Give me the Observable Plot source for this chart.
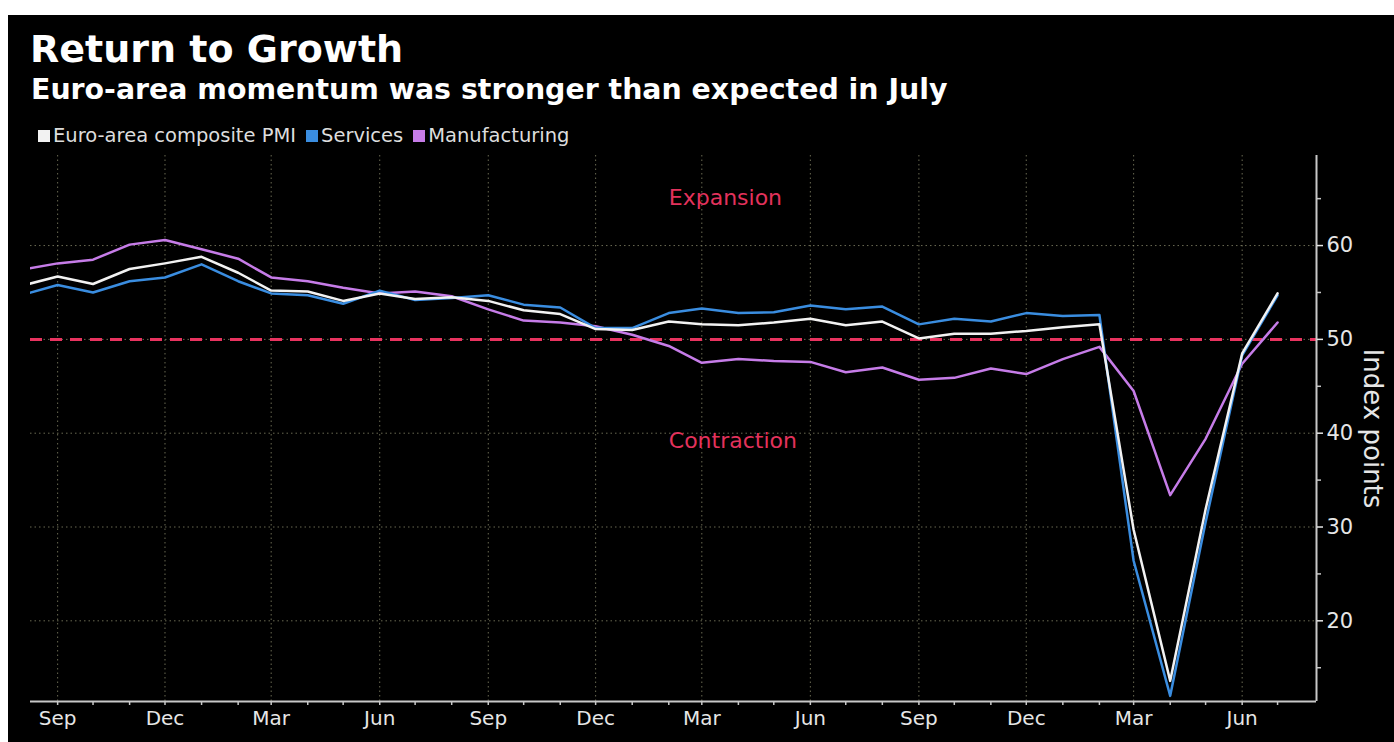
<!DOCTYPE html>
<html>
<head>
<meta charset="utf-8">
<script src="https://cdn.jsdelivr.net/npm/d3@7"></script>
<script src="https://cdn.jsdelivr.net/npm/@observablehq/plot@0.6"></script>
<style>
  html, body { margin: 0; padding: 0; }
  body { width: 1394px; height: 742px; position: relative; overflow: hidden; background: #fff; font-family: "DejaVu Sans", sans-serif; }
  #bg { position: absolute; left: 8px; top: 15px; right: 0; bottom: 0; background: #000; }
  .t { position: absolute; color: #fff; font-weight: bold; line-height: 1; white-space: nowrap; }
  #title { left: 30px; top: 30px; font-size: 38px; }
  #subtitle { left: 31px; top: 76px; font-size: 28.4px; }
  #legend { position: absolute; left: 38px; top: 126px; display: flex; align-items: center; font-size: 19.5px; line-height: 1; color: #ddd; white-space: nowrap; }
  #legend .item { display: flex; align-items: center; margin-right: 10px; }
  #legend .sw { width: 12px; height: 12px; margin-right: 3px; }
  #chart { position: absolute; left: 0; top: 145px; }
</style>
</head>
<body>
<div id="bg"></div>
<div id="title" class="t">Return to Growth</div>
<div id="subtitle" class="t">Euro-area momentum was stronger than expected in July</div>
<div id="legend"></div>
<div id="chart"></div>
<script>
// ---- Data (monthly PMI readings, Aug 2017 – Jul 2020) ----
const months = [
  "2017-08","2017-09","2017-10","2017-11","2017-12",
  "2018-01","2018-02","2018-03","2018-04","2018-05","2018-06","2018-07","2018-08","2018-09","2018-10","2018-11","2018-12",
  "2019-01","2019-02","2019-03","2019-04","2019-05","2019-06","2019-07","2019-08","2019-09","2019-10","2019-11","2019-12",
  "2020-01","2020-02","2020-03","2020-04","2020-05","2020-06","2020-07"
];
const composite = [
  55.7, 56.7, 55.9, 57.5, 58.1,
  58.8, 57.1, 55.2, 55.1, 54.1, 54.9, 54.3, 54.5, 54.1, 53.1, 52.7, 51.1,
  51.0, 51.9, 51.6, 51.5, 51.8, 52.2, 51.5, 51.9, 50.1, 50.6, 50.6, 50.9,
  51.3, 51.6, 29.7, 13.6, 31.9, 48.5, 54.9
];
const services = [
  54.7, 55.8, 55.0, 56.2, 56.6,
  58.0, 56.2, 54.9, 54.7, 53.8, 55.2, 54.2, 54.4, 54.7, 53.7, 53.4, 51.2,
  51.2, 52.8, 53.3, 52.8, 52.9, 53.6, 53.2, 53.5, 51.6, 52.2, 51.9, 52.8,
  52.5, 52.6, 26.4, 12.0, 30.5, 48.3, 54.7
];
const manufacturing = [
  57.4, 58.1, 58.5, 60.1, 60.6,
  59.6, 58.6, 56.6, 56.2, 55.5, 54.9, 55.1, 54.6, 53.2, 52.0, 51.8, 51.4,
  50.5, 49.3, 47.5, 47.9, 47.7, 47.6, 46.5, 47.0, 45.7, 45.9, 46.9, 46.3,
  47.9, 49.2, 44.5, 33.4, 39.4, 47.4, 51.8
];
const seriesNames = ["Euro-area composite PMI", "Services", "Manufacturing"];
const seriesColors = ["#f2f2f2", "#3a8de0", "#c67ce8"];

// x tick labels (every three months) and y ticks
const xLabelMonths = ["2017-09","2017-12","2018-03","2018-06","2018-09","2018-12","2019-03","2019-06","2019-09","2019-12","2020-03","2020-06"];
const yMajorTicks = [20, 30, 40, 50, 60];
const yMinorTicks = [15, 25, 35, 45, 55, 65];
const threshold = [50];
const xDomain = ["2017-08-09", "2020-08-03"];
const yDomain = [11.4, 69.6];
const annotations = [
  {month: "2019-02", value: 65.1, label: "Expansion"},
  {month: "2019-02", value: 39.2, label: "Contraction"}
];

// ---- Build ----
const parseM = d3.utcParse("%Y-%m");
const parseD = d3.utcParse("%Y-%m-%d");
const dates = months.map(parseM);
const labelDates = xLabelMonths.map(parseM);
const labelSet = new Set(xLabelMonths);
const fmt = d3.utcFormat("%b");
const keyFmt = d3.utcFormat("%Y-%m");

const allSeries = [composite, services, manufacturing];
const rows = allSeries.map((vals, s) => dates.map((d, i) => ({date: d, value: vals[i], series: seriesNames[s]})));

// legend
const legend = document.getElementById("legend");
seriesNames.forEach((n, i) => {
  const it = document.createElement("div");
  it.className = "item";
  it.innerHTML = `<span class="sw" style="background:${seriesColors[i]}"></span><span>${n}</span>`;
  legend.appendChild(it);
});

const xMin = parseD(xDomain[0]), xMax = parseD(xDomain[1]);
const gridStyle = {stroke: "#8c8c6e", strokeOpacity: 0.75, strokeWidth: 1, strokeDasharray: "1.5,3"};

const chart = Plot.plot({
  width: 1394,
  height: 597,
  marginTop: 10,
  marginBottom: 41,
  marginLeft: 30,
  marginRight: 78,
  style: {background: "transparent", color: "#e6e6e6", fontFamily: "DejaVu Sans, sans-serif", overflow: "visible"},
  x: {type: "utc", domain: [xMin, xMax]},
  y: {domain: yDomain},
  marks: [
    Plot.gridX(labelDates, gridStyle),
    Plot.gridY(yMajorTicks, gridStyle),
    Plot.ruleY(threshold, {stroke: "#e8335f", strokeWidth: 3, strokeDasharray: "12,8"}),
    Plot.line(rows[2], {x: "date", y: "value", stroke: seriesColors[2], strokeWidth: 2.5, clip: true}),
    Plot.line(rows[1], {x: "date", y: "value", stroke: seriesColors[1], strokeWidth: 2.5, clip: true}),
    Plot.line(rows[0], {x: "date", y: "value", stroke: seriesColors[0], strokeWidth: 2.5, clip: true}),
    Plot.text(annotations, {x: d => parseM(d.month), y: "value", text: "label", fill: "#e3325c", fontSize: 22, textAnchor: "start", lineAnchor: "middle"}),
    Plot.ruleY([yDomain[0]], {stroke: "#c8c8c8", strokeWidth: 2}),
    Plot.ruleX([xMax], {stroke: "#c8c8c8", strokeWidth: 2}),
    Plot.axisX({ticks: dates.filter(d => d >= xMin), tickSize: 4, tickPadding: 5, fontSize: 20, stroke: "#c8c8c8", strokeWidth: 1.5,
      tickFormat: d => labelSet.has(keyFmt(d)) ? fmt(d) : "", label: null}),
    Plot.axisY({anchor: "right", ticks: yMajorTicks, tickSize: 6, tickPadding: 4, fontSize: 21, stroke: "#e6e6e6", strokeWidth: 1.5, label: null}),
    Plot.axisY({anchor: "right", ticks: yMinorTicks, tickSize: 4, tickFormat: () => "", stroke: "#c8c8c8", strokeWidth: 1.5, label: null}),
    Plot.text(["Index points"], {frameAnchor: "right", rotate: 90, dx: 56, fontSize: 26, fill: "#e6e6e6", textAnchor: "middle", lineAnchor: "middle"})
  ]
});
document.getElementById("chart").appendChild(chart);
</script>
</body>
</html>
